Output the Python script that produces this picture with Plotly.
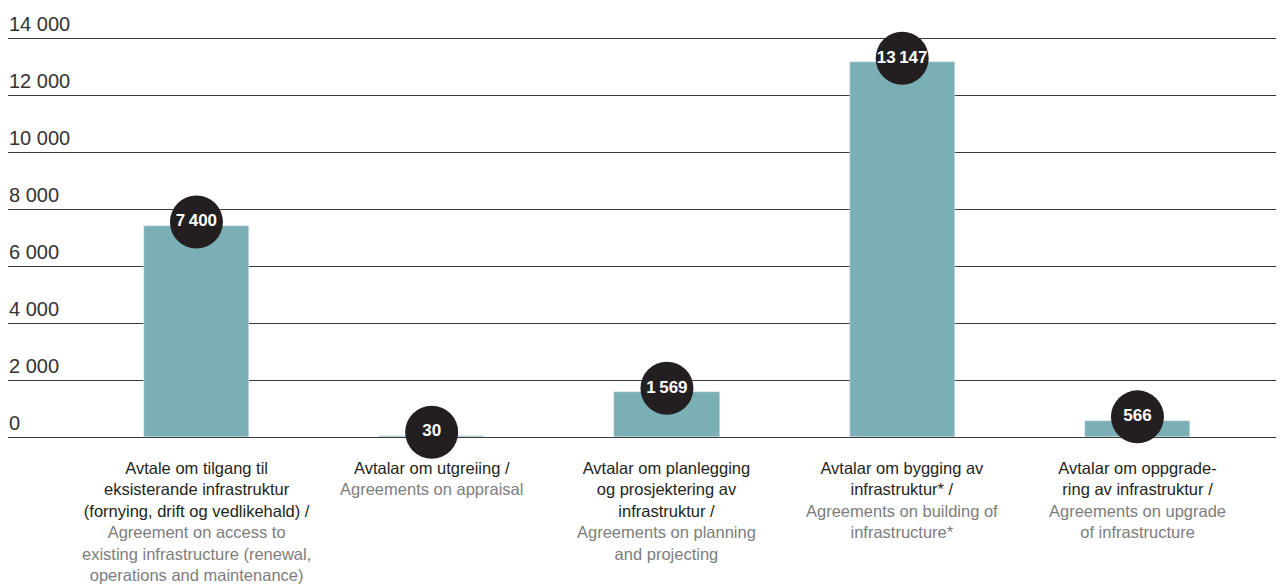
import plotly.graph_objects as go

# ---- data ----
categories = ["access", "appraisal", "planning", "building", "upgrade"]
values = [7400, 30, 1569, 13147, 566]
value_labels = ["7\u2009400", "30", "1\u2009569", "13\u2009147", "566"]
label_no = [
    "Avtale om tilgang til<br>eksisterande infrastruktur<br>(fornying, drift og vedlikehald) /",
    "Avtalar om utgreiing /",
    "Avtalar om planlegging<br>og prosjektering av<br>infrastruktur /",
    "Avtalar om bygging av<br>infrastruktur* /",
    "Avtalar om oppgrade-<br>ring av infrastruktur /",
]
label_en = [
    "Agreement on access to<br>existing infrastructure (renewal,<br>operations and maintenance)",
    "Agreements on appraisal",
    "Agreements on planning<br>and projecting",
    "Agreements on building of<br>infrastructure*",
    "Agreements on upgrade<br>of infrastructure",
]
tick_vals = [0, 2000, 4000, 6000, 8000, 10000, 12000, 14000]
tick_text = ["0", "2 000", "4 000", "6 000", "8 000", "10 000", "12 000", "14 000"]

BAR = "#7aafb5"
DARK = "#231f20"
GREY = "#7d7d7d"
FONT = "Liberation Sans, Arial, sans-serif"

y_top = 14000
px = y_top / 399          # data units per pixel
head_px = 8               # extra room above top gridline

fig = go.Figure()
fig.add_trace(go.Bar(
    x=categories, y=values, marker_color=BAR, width=0.447,
    hoverinfo="skip",
))
fig.add_trace(go.Scatter(
    x=categories, y=[v + 4 * px for v in values],
    mode="markers+text",
    marker=dict(size=53, color=DARK, line=dict(width=0)),
    text=value_labels, textposition="middle center",
    textfont=dict(family=FONT, size=17, color="white", weight="bold"),
    cliponaxis=False, hoverinfo="skip",
))

annotations = []
for tv, tt in zip(tick_vals, tick_text):
    annotations.append(dict(
        xref="paper", x=0, yref="y", y=tv, text=tt, showarrow=False,
        xanchor="left", yanchor="bottom", yshift=1, xshift=-1,
        font=dict(family=FONT, size=20, color="#333333"),
    ))
for c, no, en in zip(categories, label_no, label_en):
    annotations.append(dict(
        xref="x", x=c, yref="y", y=0, showarrow=False,
        text=f"<span style='color:{DARK}'>{no}</span><br><span style='color:{GREY}'>{en}</span>",
        xanchor="center", yanchor="top", yshift=-20, align="center",
        font=dict(family=FONT, size=16.5, color=DARK),
    ))

fig.update_layout(
    width=1276, height=577,
    margin=dict(l=0, r=0, t=30 - head_px, b=148),
    paper_bgcolor="white", plot_bgcolor="white",
    showlegend=False,
    bargap=0,
    annotations=annotations,
    xaxis=dict(
        type="category", range=[-0.801, 4.623], showticklabels=False,
        showgrid=False, zeroline=False, showline=False, fixedrange=True,
    ),
    yaxis=dict(
        range=[0, y_top + head_px * px], tickvals=tick_vals, showticklabels=False,
        showgrid=True, gridcolor="#3a3a3a", gridwidth=1,
        zeroline=True, zerolinecolor="#3a3a3a", zerolinewidth=1,
        showline=False, fixedrange=True,
    ),
)

fig.write_html("out.html")
